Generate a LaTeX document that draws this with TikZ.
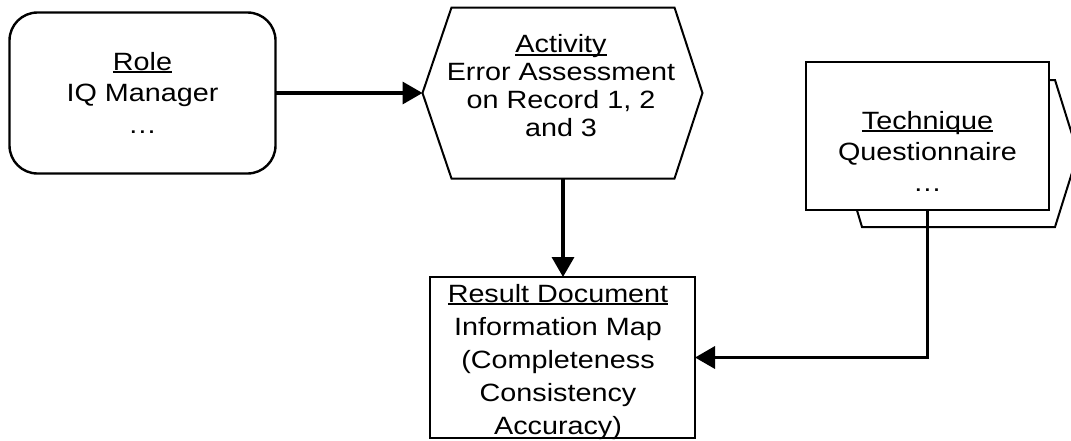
\documentclass[tikz,border=0pt]{standalone}
\usepackage{fontspec}
\setmainfont{Liberation Sans}[FakeStretch=1.15]
\usetikzlibrary{arrows.meta,calc}
% underlined heading word with a fixed rule just below the baseline
\newcommand\ultext[1]{\setbox0\hbox{#1}\rlap{\rule[-2.8pt]{\wd0}{1.8pt}}\box0}
\begin{document}
\begin{tikzpicture}[x=1pt,y=-1pt,
  box/.style={draw, line width=2.4pt, fill=white, inner sep=0pt, outer sep=0pt},
  hexline/.style={draw, line width=2pt, line join=miter, fill=white},
  frame/.style={inner sep=0pt, outer sep=0pt},
  txt/.style={align=center, inner sep=0pt},
  conn/.style={line width=3.5pt, -{Triangle[length=20pt,width=22pt]}},
]
\useasboundingbox (0,0) rectangle (1071,440);
\clip (0,0) rectangle (1071,440);
\fill[white] (0,0) rectangle (1071,440);

% Role: rounded box
\node[box, rounded corners=28pt, minimum width=266pt, minimum height=161pt] (role) at (142.5,93) {};
\node[txt, font=\fontsize{25}{31.5}\selectfont] (roleText) at (142.5,92.5) {\ultext{Role}\\IQ Manager\\…};

% Activity: hexagon built around an invisible frame
\node[frame, minimum width=223pt, minimum height=171pt] (act) at (563,93) {};
\coordinate (actW) at ($(act.west)+(-29,0)$);
\coordinate (actE) at ($(act.east)+(28,0)$);
\draw[hexline] (act.north west) -- (act.north east) -- (actE) -- (act.south east)
  -- (act.south west) -- (actW) -- cycle;
\node[txt, font=\fontsize{25}{28}\selectfont] (actText) at (561,86) {\ultext{Activity}\\Error Assessment\\on Record 1, 2\\and 3};

% Result document
\node[box, minimum width=265pt, minimum height=161pt] (res) at (562.5,357.5) {};
\node[txt, font=\fontsize{25}{33}\selectfont] (resText) at (558,362) {\ultext{Result Document}\\Information Map\\(Completeness\\Consistency\\Accuracy)};

% Technique: stacked hexagon behind a rectangle
\node[frame, minimum width=193pt, minimum height=147pt] (techBack) at (958.5,153.5) {};
\coordinate (techBackW) at ($(techBack.west)+(-22,0)$);
\coordinate (techBackE) at ($(techBack.east)+(23,0)$);
\draw[hexline] (techBack.north west) -- (techBack.north east) -- (techBackE) -- (techBack.south east)
  -- (techBack.south west) -- (techBackW) -- cycle;
\node[box, minimum width=243pt, minimum height=148pt] (tech) at (927.5,136) {};
\node[txt, font=\fontsize{25}{31}\selectfont] (techText) at (927.5,151) {\ultext{Technique}\\Questionnaire\\…};

% Connectors
\draw[conn] (role.east) -- (actW);
\draw[conn] (act.south) -- (act.south |- res.north);
\draw[conn] (tech.south) |- (res.east);
\end{tikzpicture}
\end{document}
